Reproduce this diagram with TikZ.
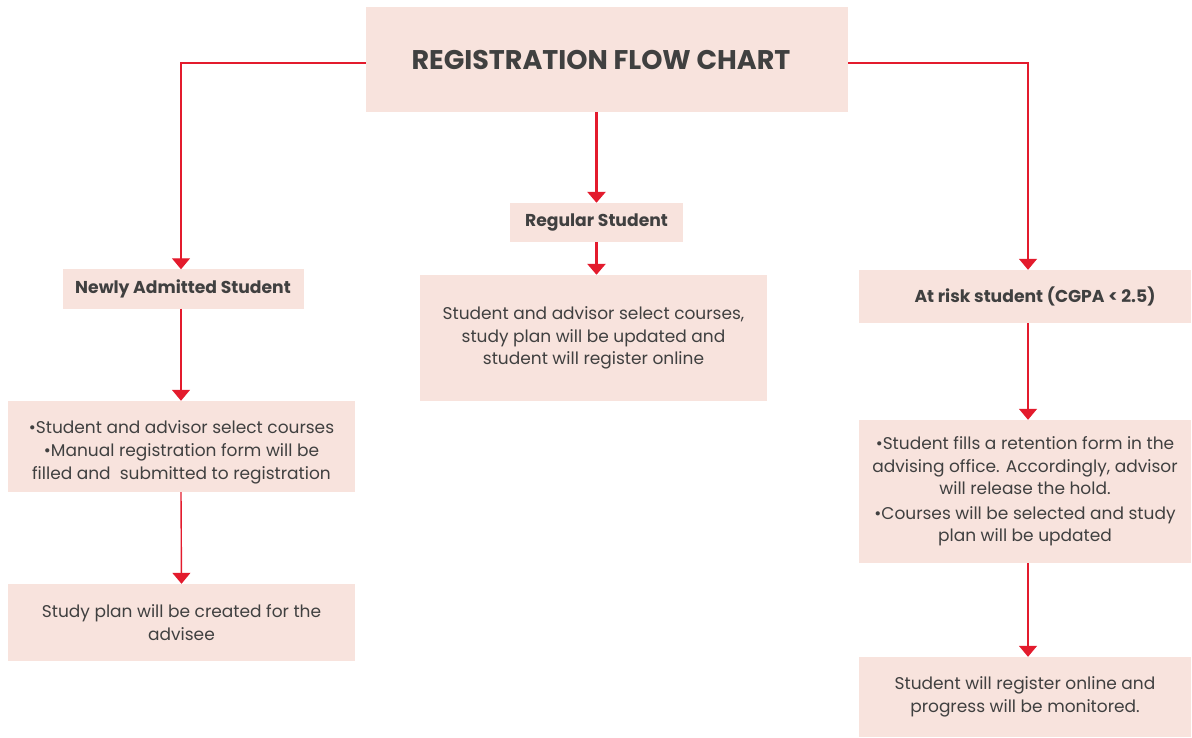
\documentclass[tikz,border=0pt]{standalone}
\usepackage{fontspec}
\setmainfont{Poppins}
\usetikzlibrary{arrows.meta}
\definecolor{boxfill}{HTML}{F8E3DD}
\definecolor{linered}{HTML}{E31B2D}
\definecolor{txtgray}{HTML}{404040}
\tikzset{
  box/.style={rectangle, fill=boxfill, draw=none, inner sep=0pt, align=center, text=txtgray},
  body/.style={box, font=\fontsize{17}{22.5}\selectfont},
  head/.style={box, font=\fontsize{17.2}{22}\selectfont\bfseries},
  thin/.style={draw=linered, line width=1.4pt, -{Triangle[width=18pt,length=11pt]}},
  thick/.style={draw=linered, line width=3pt, -{Triangle[width=18pt,length=11pt]}},
}
\begin{document}
\begin{tikzpicture}[x=1pt,y=-1pt]
\useasboundingbox (0,0) rectangle (1192,738);
\node[box, minimum width=482pt, minimum height=105pt, font=\fontsize{27}{32}\selectfont\bfseries] (title) at (607,59.5) {REGISTRATION FLOW CHART\hspace{12pt}};
\node[head, minimum width=241pt, minimum height=39pt] (newly) at (183,289) {Newly Admitted Student};
\node[body, minimum width=347pt, minimum height=91pt] (l2) at (181.5,446.5) {};
\node[body, fill=none] (l2text) at (181.5,452) {•Student and advisor select courses\\[1pt]•Manual registration form will be\\filled and~ submitted to registration};
\node[body, minimum width=347pt, minimum height=77pt] (l3) at (181.5,622.5) {Study plan will be created for the\\advisee};
\node[head, minimum width=173pt, minimum height=39pt] (reg) at (596.5,222.5) {Regular Student};
\node[body, minimum width=347pt, minimum height=126pt] (mid) at (593.5,338) {Student and advisor select courses,\\study plan will be updated and\\student will register online};
\node[head, minimum width=332pt, minimum height=53pt] (r1) at (1025,296.5) {\hspace{20pt}At risk student (CGPA < 2.5)};
\node[body, minimum width=332pt, minimum height=143pt] (r2) at (1025,491.5) {•Student fills a retention form in the\\advising office. Accordingly, advisor\\will release the hold.\\[2pt]•Courses will be selected and study\\plan will be updated};
\node[body, minimum width=332pt, minimum height=80pt] (r3) at (1025,697) {Student will register online and\\progress will be monitored.};
% connectors
\draw[thin] (title.west) ++(0,3.5) -| ([xshift=-2pt]newly.north);
\draw[thin] ([xshift=-2pt]newly.south) -- ([xshift=-2pt]newly.south |- l2.north);
\draw[thin] ([xshift=-0.5pt]l2.south) -- (l3.north);
\draw[thick] (reg.north |- title.south) -- (reg.north);
\draw[thick] (reg.south) -- (reg.south |- mid.north);
\draw[thin] (title.east) ++(0,3.5) -| ([xshift=3pt]r1.north);
\draw[thin] ([xshift=3pt]r1.south) -- ([xshift=3pt]r2.north);
\draw[thin] ([xshift=3pt]r2.south) -- ([xshift=3pt]r3.north);
\end{tikzpicture}
\end{document}
